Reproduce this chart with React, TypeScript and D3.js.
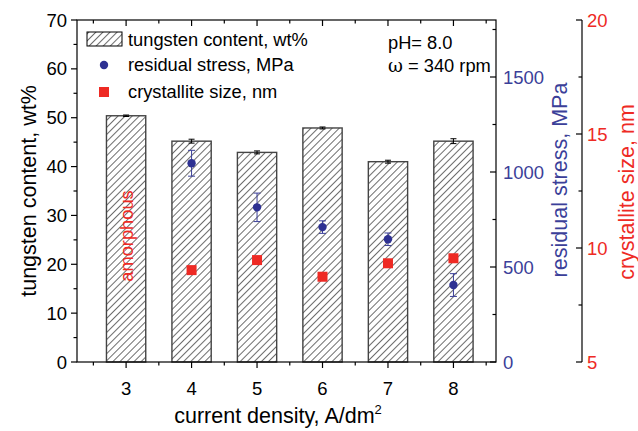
import React from "react";
import * as d3 from "d3";

const categories = [3, 4, 5, 6, 7, 8];
const tungsten = [50.4, 45.2, 42.9, 47.9, 41.0, 45.2];
const tungstenErr = [0.15, 0.4, 0.3, 0.2, 0.3, 0.5];
const stressCats = [4, 5, 6, 7, 8];
const stress = [1046, 814, 710, 646, 405];
const stressErr = [68, 75, 33, 33, 60];
const crystCats = [4, 5, 6, 7, 8];
const cryst = [9.03, 9.47, 8.74, 9.33, 9.55];
const leftTicks = [0, 10, 20, 30, 40, 50, 60, 70];
const stressTicks = [0, 500, 1000, 1500];
const crystTicks = [5, 10, 15, 20];

const W = 638, H = 431;
const L = 77, R = 496, T = 20, B = 362;
const BLUE = "#2e3192";
const BLUE_T = "#3b3f99";
const RED = "#ee2a24";
const FONT = "'Liberation Sans', Arial, sans-serif";
const TICK_FS = 18.5;
const TITLE_FS = 21.5;
const LEG_FS = 18.3;

export default function App() {
  const x = d3.scaleLinear().domain([2.25, 8.65]).range([L, R]);
  const y = d3.scaleLinear().domain([0, 70]).range([B, T]);
  const ys = d3.scaleLinear().domain([0, 1800]).range([B, T]);
  const yc = d3.scaleLinear().domain([5, 20]).range([B, T]);
  const bw = x(3.3) - x(2.7);
  const xMajor = categories;
  const xMinor = d3.range(2.5, 8.6, 1);
  const leftMinor = d3.range(5, 70, 10);
  const stressMinor = d3.range(250, 1800, 500);
  const crystMinor = [7.5, 12.5, 17.5];
  const AX = 582;

  return (
    <svg width={W} height={H} style={{ display: "block", position: "absolute", left: 0, top: 0 }} fontFamily={FONT}>
      <defs>
        <pattern id="hatch" patternUnits="userSpaceOnUse" width="5" height="5" patternTransform="rotate(45)">
          <rect width="5" height="5" fill="white" />
          <line x1="0" y1="0" x2="0" y2="5" stroke="#000" strokeWidth="1.15" />
        </pattern>
      </defs>
      <rect width={W} height={H} fill="white" />
      {/* bars */}
      {categories.map((c, i) => (
        <g key={"b" + c}>
          <rect x={x(c) - bw / 2} y={y(tungsten[i])} width={bw} height={B - y(tungsten[i])}
            fill="url(#hatch)" stroke="#444" strokeWidth={1.4} />
          <line x1={x(c)} x2={x(c)} y1={y(tungsten[i] + tungstenErr[i])} y2={y(tungsten[i] - tungstenErr[i])} stroke="#000" strokeWidth={1} />
          <line x1={x(c) - 3} x2={x(c) + 3} y1={y(tungsten[i] + tungstenErr[i])} y2={y(tungsten[i] + tungstenErr[i])} stroke="#000" strokeWidth={1} />
          <line x1={x(c) - 3} x2={x(c) + 3} y1={y(tungsten[i] - tungstenErr[i])} y2={y(tungsten[i] - tungstenErr[i])} stroke="#000" strokeWidth={1} />
        </g>
      ))}
      {/* amorphous */}
      <text transform={`translate(${x(3) + 7},${236}) rotate(-90)`} textAnchor="middle" fill={RED} fontSize={18.3}>amorphous</text>
      {/* stress */}
      {stressCats.map((c, i) => (
        <g key={"s" + c}>
          <line x1={x(c)} x2={x(c)} y1={ys(stress[i] + stressErr[i])} y2={ys(stress[i] - stressErr[i])} stroke={BLUE_T} strokeWidth={1} />
          <line x1={x(c) - 3.5} x2={x(c) + 3.5} y1={ys(stress[i] + stressErr[i])} y2={ys(stress[i] + stressErr[i])} stroke={BLUE_T} strokeWidth={1} />
          <line x1={x(c) - 3.5} x2={x(c) + 3.5} y1={ys(stress[i] - stressErr[i])} y2={ys(stress[i] - stressErr[i])} stroke={BLUE_T} strokeWidth={1} />
          <circle cx={x(c)} cy={ys(stress[i])} r={4.2} fill={BLUE} />
        </g>
      ))}
      {/* crystallite */}
      {crystCats.map((c, i) => (
        <rect key={"c" + c} x={x(c) - 5} y={yc(cryst[i]) - 5} width={10} height={10} fill={RED} />
      ))}
      {/* frame */}
      <rect x={L} y={T} width={R - L} height={B - T} fill="none" stroke="#000" strokeWidth={1.2} />
      {/* left axis */}
      {leftTicks.map((t) => (
        <g key={"l" + t}>
          <line x1={L - 6} x2={L} y1={y(t)} y2={y(t)} stroke="#000" strokeWidth={1.2} />
          <text x={L - 10} y={y(t) + 6.5} textAnchor="end" fontSize={TICK_FS}>{t}</text>
        </g>
      ))}
      {leftMinor.map((t) => (
        <line key={"lm" + t} x1={L - 3.5} x2={L} y1={y(t)} y2={y(t)} stroke="#000" strokeWidth={1.2} />
      ))}
      <text transform={`translate(${36},${191}) rotate(-90)`} textAnchor="middle" fontSize={TITLE_FS}>tungsten content, wt%</text>
      {/* bottom / top ticks */}
      {xMajor.map((t) => (
        <g key={"x" + t}>
          <line x1={x(t)} x2={x(t)} y1={B} y2={B + 6} stroke="#000" strokeWidth={1.2} />
          <line x1={x(t)} x2={x(t)} y1={T} y2={T + 6} stroke="#000" strokeWidth={1.2} />
          <text x={x(t)} y={B + 33} textAnchor="middle" fontSize={TICK_FS}>{t}</text>
        </g>
      ))}
      {xMinor.map((t) => (
        <g key={"xm" + t}>
          <line x1={x(t)} x2={x(t)} y1={B} y2={B + 3.5} stroke="#000" strokeWidth={1.2} />
          <line x1={x(t)} x2={x(t)} y1={T} y2={T + 3.5} stroke="#000" strokeWidth={1.2} />
        </g>
      ))}
      <text x={278} y={423} textAnchor="middle" fontSize={TITLE_FS}>
        current density, A/dm<tspan dy={-9} fontSize={13}>2</tspan>
      </text>
      {/* stress axis (right side of frame) */}
      {stressTicks.map((t) => (
        <g key={"st" + t}>
          <line x1={R - 6} x2={R} y1={ys(t)} y2={ys(t)} stroke="#000" strokeWidth={1.2} />
          <text x={503} y={ys(t) + 6.5} fill={BLUE_T} fontSize={TICK_FS}>{t}</text>
        </g>
      ))}
      {stressMinor.map((t) => (
        <line key={"sm" + t} x1={R - 3.5} x2={R} y1={ys(t)} y2={ys(t)} stroke="#000" strokeWidth={1.2} />
      ))}
      <text transform={`translate(${567},${180}) rotate(-90)`} textAnchor="middle" fill={BLUE_T} fontSize={TITLE_FS}>residual stress, MPa</text>
      {/* crystallite axis */}
      <line x1={AX} x2={AX} y1={T} y2={B} stroke="#000" strokeWidth={1.2} />
      {crystTicks.map((t) => (
        <g key={"ct" + t}>
          <line x1={AX - 6} x2={AX} y1={yc(t)} y2={yc(t)} stroke="#000" strokeWidth={1.2} />
          <text x={587} y={yc(t) + 6.5} fill={RED} fontSize={TICK_FS}>{t}</text>
        </g>
      ))}
      {crystMinor.map((t) => (
        <line key={"cm" + t} x1={AX - 3.5} x2={AX} y1={yc(t)} y2={yc(t)} stroke="#000" strokeWidth={1.2} />
      ))}
      <text transform={`translate(${634},${192}) rotate(-90)`} textAnchor="middle" fill={RED} fontSize={TITLE_FS}>crystallite size, nm</text>
      {/* legend */}
      <rect x={87} y={32} width={35} height={14} fill="url(#hatch)" stroke="#000" strokeWidth={1} />
      <text x={128} y={46} fontSize={LEG_FS}>tungsten content, wt%</text>
      <circle cx={104} cy={65} r={4.2} fill={BLUE} />
      <text x={128} y={71} fontSize={LEG_FS}>residual stress, MPa</text>
      <rect x={99} y={87} width={10} height={10} fill={RED} />
      <text x={128} y={98} fontSize={LEG_FS}>crystallite size, nm</text>
      {/* conditions */}
      <text x={388} y={49} fontSize={LEG_FS}>pH= 8.0</text>
      <text x={388} y={72} fontSize={LEG_FS}>
        <tspan fontFamily="'DejaVu Serif', serif">ω</tspan> = 340 rpm
      </text>
    </svg>
  );
}
